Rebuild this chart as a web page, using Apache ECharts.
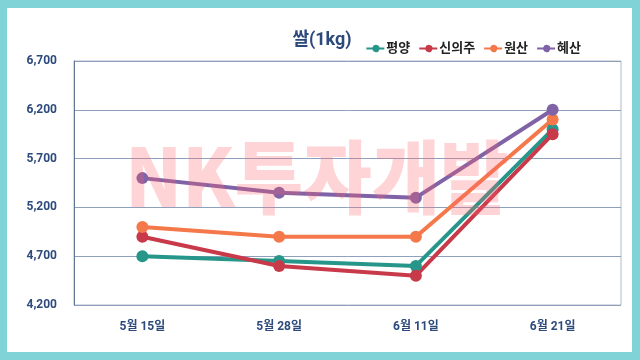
<!DOCTYPE html>
<html><head><meta charset="utf-8">
<script src="https://cdn.jsdelivr.net/npm/echarts@6/dist/echarts.min.js"></script>
<style>html,body{margin:0;padding:0;background:#80d4d8;}#c{width:640px;height:360px;}</style>
</head><body><div id="c"></div>
<script>
const categories = ['5월 15일', '5월 28일', '6월 11일', '6월 21일'];
const pyongyang = [4700, 4650, 4600, 6000];
const sinuiju = [4900, 4600, 4500, 5950];
const wonsan = [5000, 4900, 4900, 6100];
const hyesan = [5500, 5350, 5300, 6200];
const seriesNames = ['평양', '신의주', '원산', '혜산'];
const colors = ['#27968a', '#c8394a', '#f4784a', '#8062a6'];
const yTicks = [4200, 4700, 5200, 5700, 6200, 6700];

const chart = echarts.init(document.getElementById('c'), null, {renderer: 'canvas'});
const navy = '#2d4a7c';
const font = 'Roboto, "Noto Sans CJK KR", sans-serif';
const dataSets = [pyongyang, sinuiju, wonsan, hyesan];
chart.setOption({
  animation: false,
  backgroundColor: '#80d4d8',
  color: colors,
  title: {
    text: '쌀(1kg)', left: 317, top: 27, textAlign: 'center',
    textStyle: {fontFamily: font, fontSize: 18, fontWeight: 'bold', color: navy}
  },
  legend: {
    right: 54, top: 37, itemWidth: 18, itemHeight: 9, itemGap: 9,
    icon: 'path://M0,3.1H6.1A3.6,3.6,0,1,1,6.1,4.9H0Z M11.9,3.1H18V4.9H11.9Z',
    textStyle: {fontFamily: font, fontSize: 13, fontWeight: 'bold', color: '#222', padding: [0, 0, 0, -3]},
    data: seriesNames
  },
  graphic: [
    {type: 'rect', left: 7, top: 8, shape: {width: 625, height: 344}, style: {fill: '#ffffff'}, z: -10, silent: true},
    {type: 'text', x: 317, y: 177, z: 100, silent: true,
     scaleX: 0.93,
     style: {text: 'NK투자개발', fill: 'rgba(255,100,110,0.28)', font: '900 80px "Noto Sans CJK KR", sans-serif', align: 'center', verticalAlign: 'middle'}}
  ],
  grid: {left: 74, right: 19, top: 61, bottom: 55, show: true, borderColor: '#b0b8c8', borderWidth: 1, backgroundColor: 'transparent'},
  xAxis: {
    type: 'category', data: categories, boundaryGap: true,
    axisLine: {show: false}, axisTick: {show: false},
    axisLabel: {margin: 16, fontFamily: font, fontSize: 12, fontWeight: 'bold', color: navy}
  },
  yAxis: {
    type: 'value', min: 4200, max: 6700, interval: 500,
    axisLine: {show: true, lineStyle: {color: '#5f7594', width: 1}},
    axisTick: {show: false},
    axisLabel: {margin: 17, fontFamily: font, fontSize: 12, fontWeight: 'bold', color: navy,
      formatter: v => v.toLocaleString('en-US')},
    splitLine: {lineStyle: {color: '#8ea0bc', width: 1}}
  },
  series: dataSets.map((d, i) => ({
    name: seriesNames[i], type: 'line', data: d,
    symbol: 'circle', symbolSize: 12,
    lineStyle: {width: 4, color: colors[i]},
    itemStyle: {color: colors[i]}
  }))
});
</script></body></html>
